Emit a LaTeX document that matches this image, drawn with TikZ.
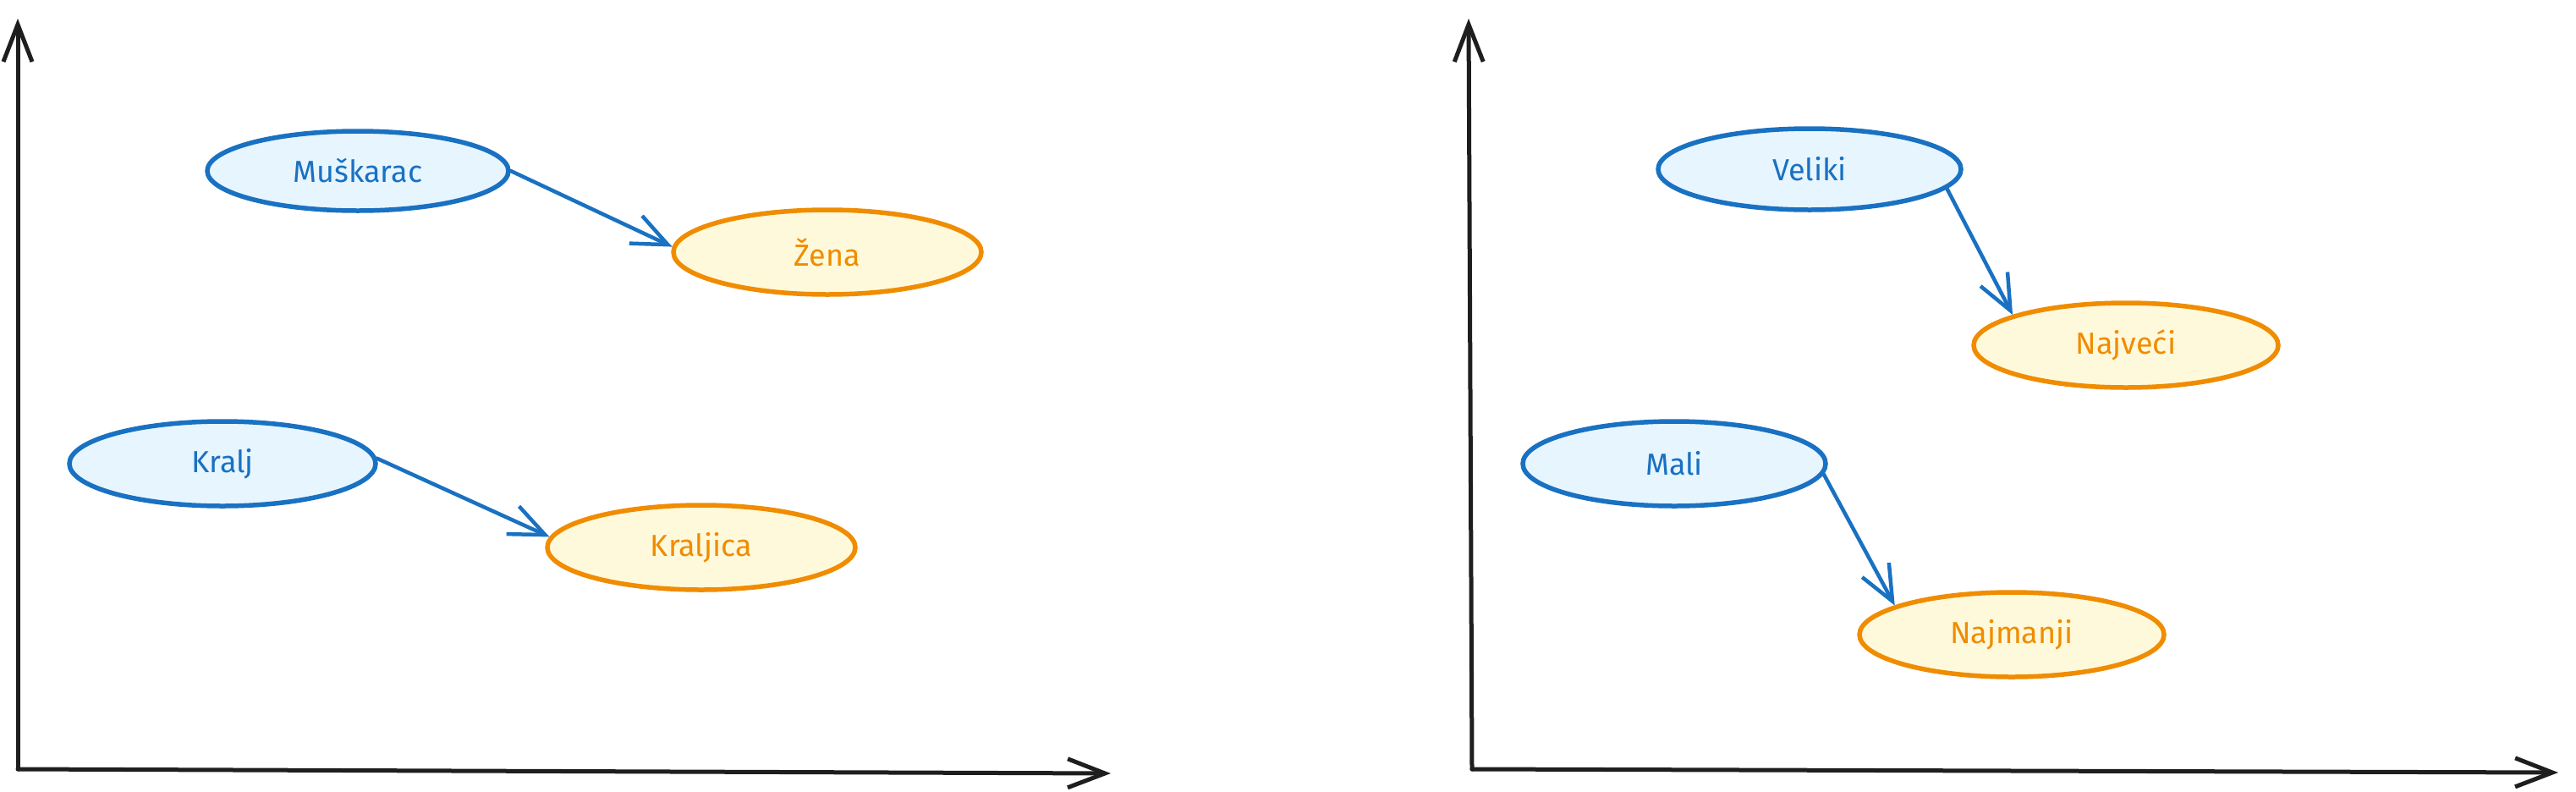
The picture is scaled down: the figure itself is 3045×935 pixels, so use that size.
\documentclass[tikz,border=0pt]{standalone}
\usepackage{fontspec}
\setmainfont{Fira Sans}
\usetikzlibrary{shapes.geometric,arrows.meta}
\definecolor{bstroke}{HTML}{1971C2}
\definecolor{bfill}{HTML}{E7F5FF}
\definecolor{ostroke}{HTML}{F08C00}
\definecolor{ofill}{HTML}{FFF9DB}
\definecolor{axis}{HTML}{1E1E1E}
\tikzset{
  blueell/.style={ellipse, draw=bstroke, fill=bfill, line width=5.5pt, inner sep=0pt, text=bstroke, font=\fontsize{36}{40}\selectfont},
  orangeell/.style={ellipse, draw=ostroke, fill=ofill, line width=5.5pt, inner sep=0pt, text=ostroke, font=\fontsize{36}{40}\selectfont},
  conn/.style={draw=bstroke, line width=4.5pt, line cap=round, -{Straight Barb[length=42pt,width=36pt,line width=4.5pt]}},
  axisline/.style={draw=axis, line width=5pt, line cap=round, -{Straight Barb[length=44pt,width=34pt,line width=5pt]}}
}
\begin{document}
\begin{tikzpicture}[x=1pt,y=-1pt]
\useasboundingbox (0,0) rectangle (3045,935);
% axes
\coordinate (o1) at (21,909);
\coordinate (y1) at (21,22);
\coordinate (x1) at (1313,914);
\coordinate (o2) at (1740,909);
\coordinate (y2) at (1736,22);
\coordinate (x2) at (3024,913);
\draw[axisline] (o1) -- (y1);
\draw[axisline] (o1) -- (x1);
\draw[axisline] (o2) -- (y2);
\draw[axisline] (o2) -- (x2);
% nodes
\node[blueell, minimum width=356pt, minimum height=94pt] (musk) at (423,202) {Muškarac};
\node[orangeell, minimum width=364pt, minimum height=100pt] (zena) at (978,298) {Žena};
\node[blueell, minimum width=362pt, minimum height=100pt] (kralj) at (263,548) {Kralj};
\node[orangeell, minimum width=364pt, minimum height=100pt] (kraljica) at (829,647) {Kraljica};
\node[blueell, minimum width=358pt, minimum height=96pt] (veliki) at (2139,200) {Veliki};
\node[orangeell, minimum width=360pt, minimum height=100pt] (najveci) at (2513,408) {Najveći};
\node[blueell, minimum width=358pt, minimum height=100pt] (mali) at (1979,548) {Mali};
\node[orangeell, minimum width=360pt, minimum height=100pt] (najmanji) at (2378,750) {Najmanji};
% connectors
\draw[conn] (musk.east) -- (zena.178);
\draw[conn] (kralj.2) -- (kraljica.176);
\draw[conn] (veliki.-8) -- (najveci.165);
\draw[conn] (mali.-4) -- (najmanji.166);
\end{tikzpicture}
\end{document}
